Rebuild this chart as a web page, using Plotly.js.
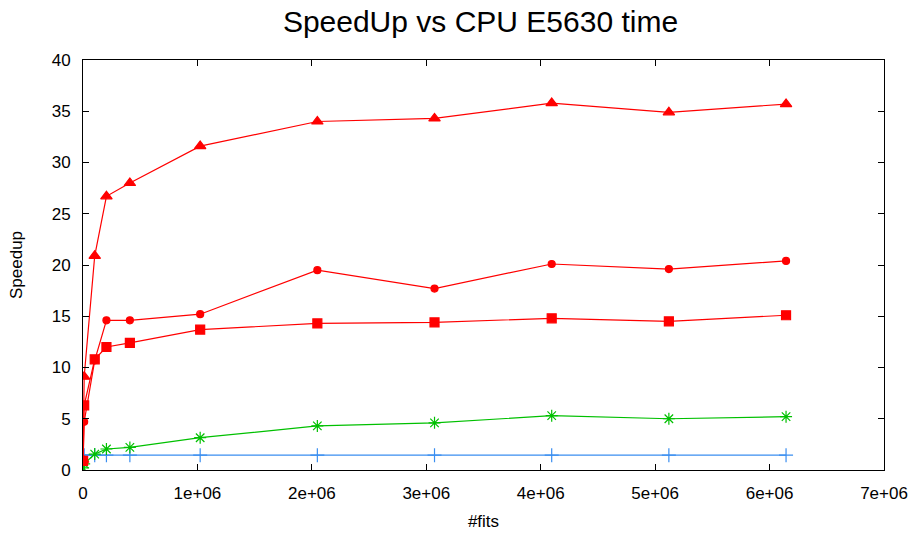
<!DOCTYPE html>
<html>
<head>
<meta charset="utf-8">
<script src="https://cdn.plot.ly/plotly-3.0.1.min.js"></script>
<style>html,body{margin:0;padding:0;background:#fff;}#chart{width:910px;height:533px;}</style>
</head>
<body>
<div id="chart"></div>
<script>
var fits = [1024, 10240, 102400, 204800, 409600, 1024000, 2048000, 3072000, 4096000, 5120000, 6144000];
var speedTriangle = [1.0, 9.1, 20.9, 26.7, 28.0, 31.6, 34.0, 34.3, 35.8, 34.9, 35.7];
var speedDot = [0.8, 4.7, 10.7, 14.6, 14.6, 15.2, 19.5, 17.7, 20.1, 19.6, 20.4];
var speedSquare = [0.9, 6.3, 10.8, 12.0, 12.4, 13.7, 14.3, 14.4, 14.8, 14.5, 15.1];
var speedStar = [0.2, 0.6, 1.55, 2.05, 2.2, 3.15, 4.3, 4.6, 5.3, 5.0, 5.2];
var speedPlus = [1.45, 1.45, 1.45, 1.45, 1.45, 1.45, 1.45, 1.45, 1.45, 1.45, 1.45];
var xTickVals = [0, 1000000, 2000000, 3000000, 4000000, 5000000, 6000000, 7000000];
var xTickText = ["0", "1e+06", "2e+06", "3e+06", "4e+06", "5e+06", "6e+06", "7e+06"];

var red = "#ff0000", green = "#00c000", blue = "#3a8ef0";
function tr(y, color, sym, size) {
  return {x: fits, y: y, type: "scatter", mode: "lines+markers",
    line: {color: color, width: 1.2},
    marker: {symbol: sym, size: size, color: color, line: {color: color, width: 1.2}}};
}
var data = [
  tr(speedPlus, blue, "cross-thin-open", 10),
  tr(speedStar, green, "asterisk-open", 10),
  tr(speedSquare, red, "square", 9),
  tr(speedDot, red, "circle", 7),
  tr(speedTriangle, red, "triangle-up", 10)
];
var font = {family: "Liberation Sans, Arial, sans-serif", size: 17, color: "#000"};
var layout = {
  width: 910, height: 533,
  margin: {l: 83, r: 26, t: 60, b: 63},
  showlegend: false,
  paper_bgcolor: "#fff", plot_bgcolor: "#fff",
  font: font,
  title: {text: "SpeedUp vs CPU E5630 time", x: 0.528, xanchor: "center", y: 0.96, yanchor: "middle",
    font: {family: "Liberation Sans, Arial, sans-serif", size: 30, color: "#000"}},
  xaxis: {range: [0, 7000000], tickvals: xTickVals, ticktext: xTickText,
    showgrid: false, zeroline: false, showline: true, linecolor: "#000", linewidth: 1, mirror: "ticks",
    ticks: "inside", ticklen: 6, tickcolor: "#000", ticklabelstandoff: 8,
    title: {text: "#fits", standoff: 12, font: font}},
  yaxis: {range: [0, 40], dtick: 5, tick0: 0,
    showgrid: false, zeroline: false, showline: true, linecolor: "#000", linewidth: 1, mirror: "ticks",
    ticks: "inside", ticklen: 6, tickcolor: "#000", ticklabelstandoff: 8,
    title: {text: "Speedup", standoff: 24, font: font}}
};
Plotly.newPlot("chart", data, layout, {displayModeBar: false, staticPlot: true});
</script>
</body>
</html>
